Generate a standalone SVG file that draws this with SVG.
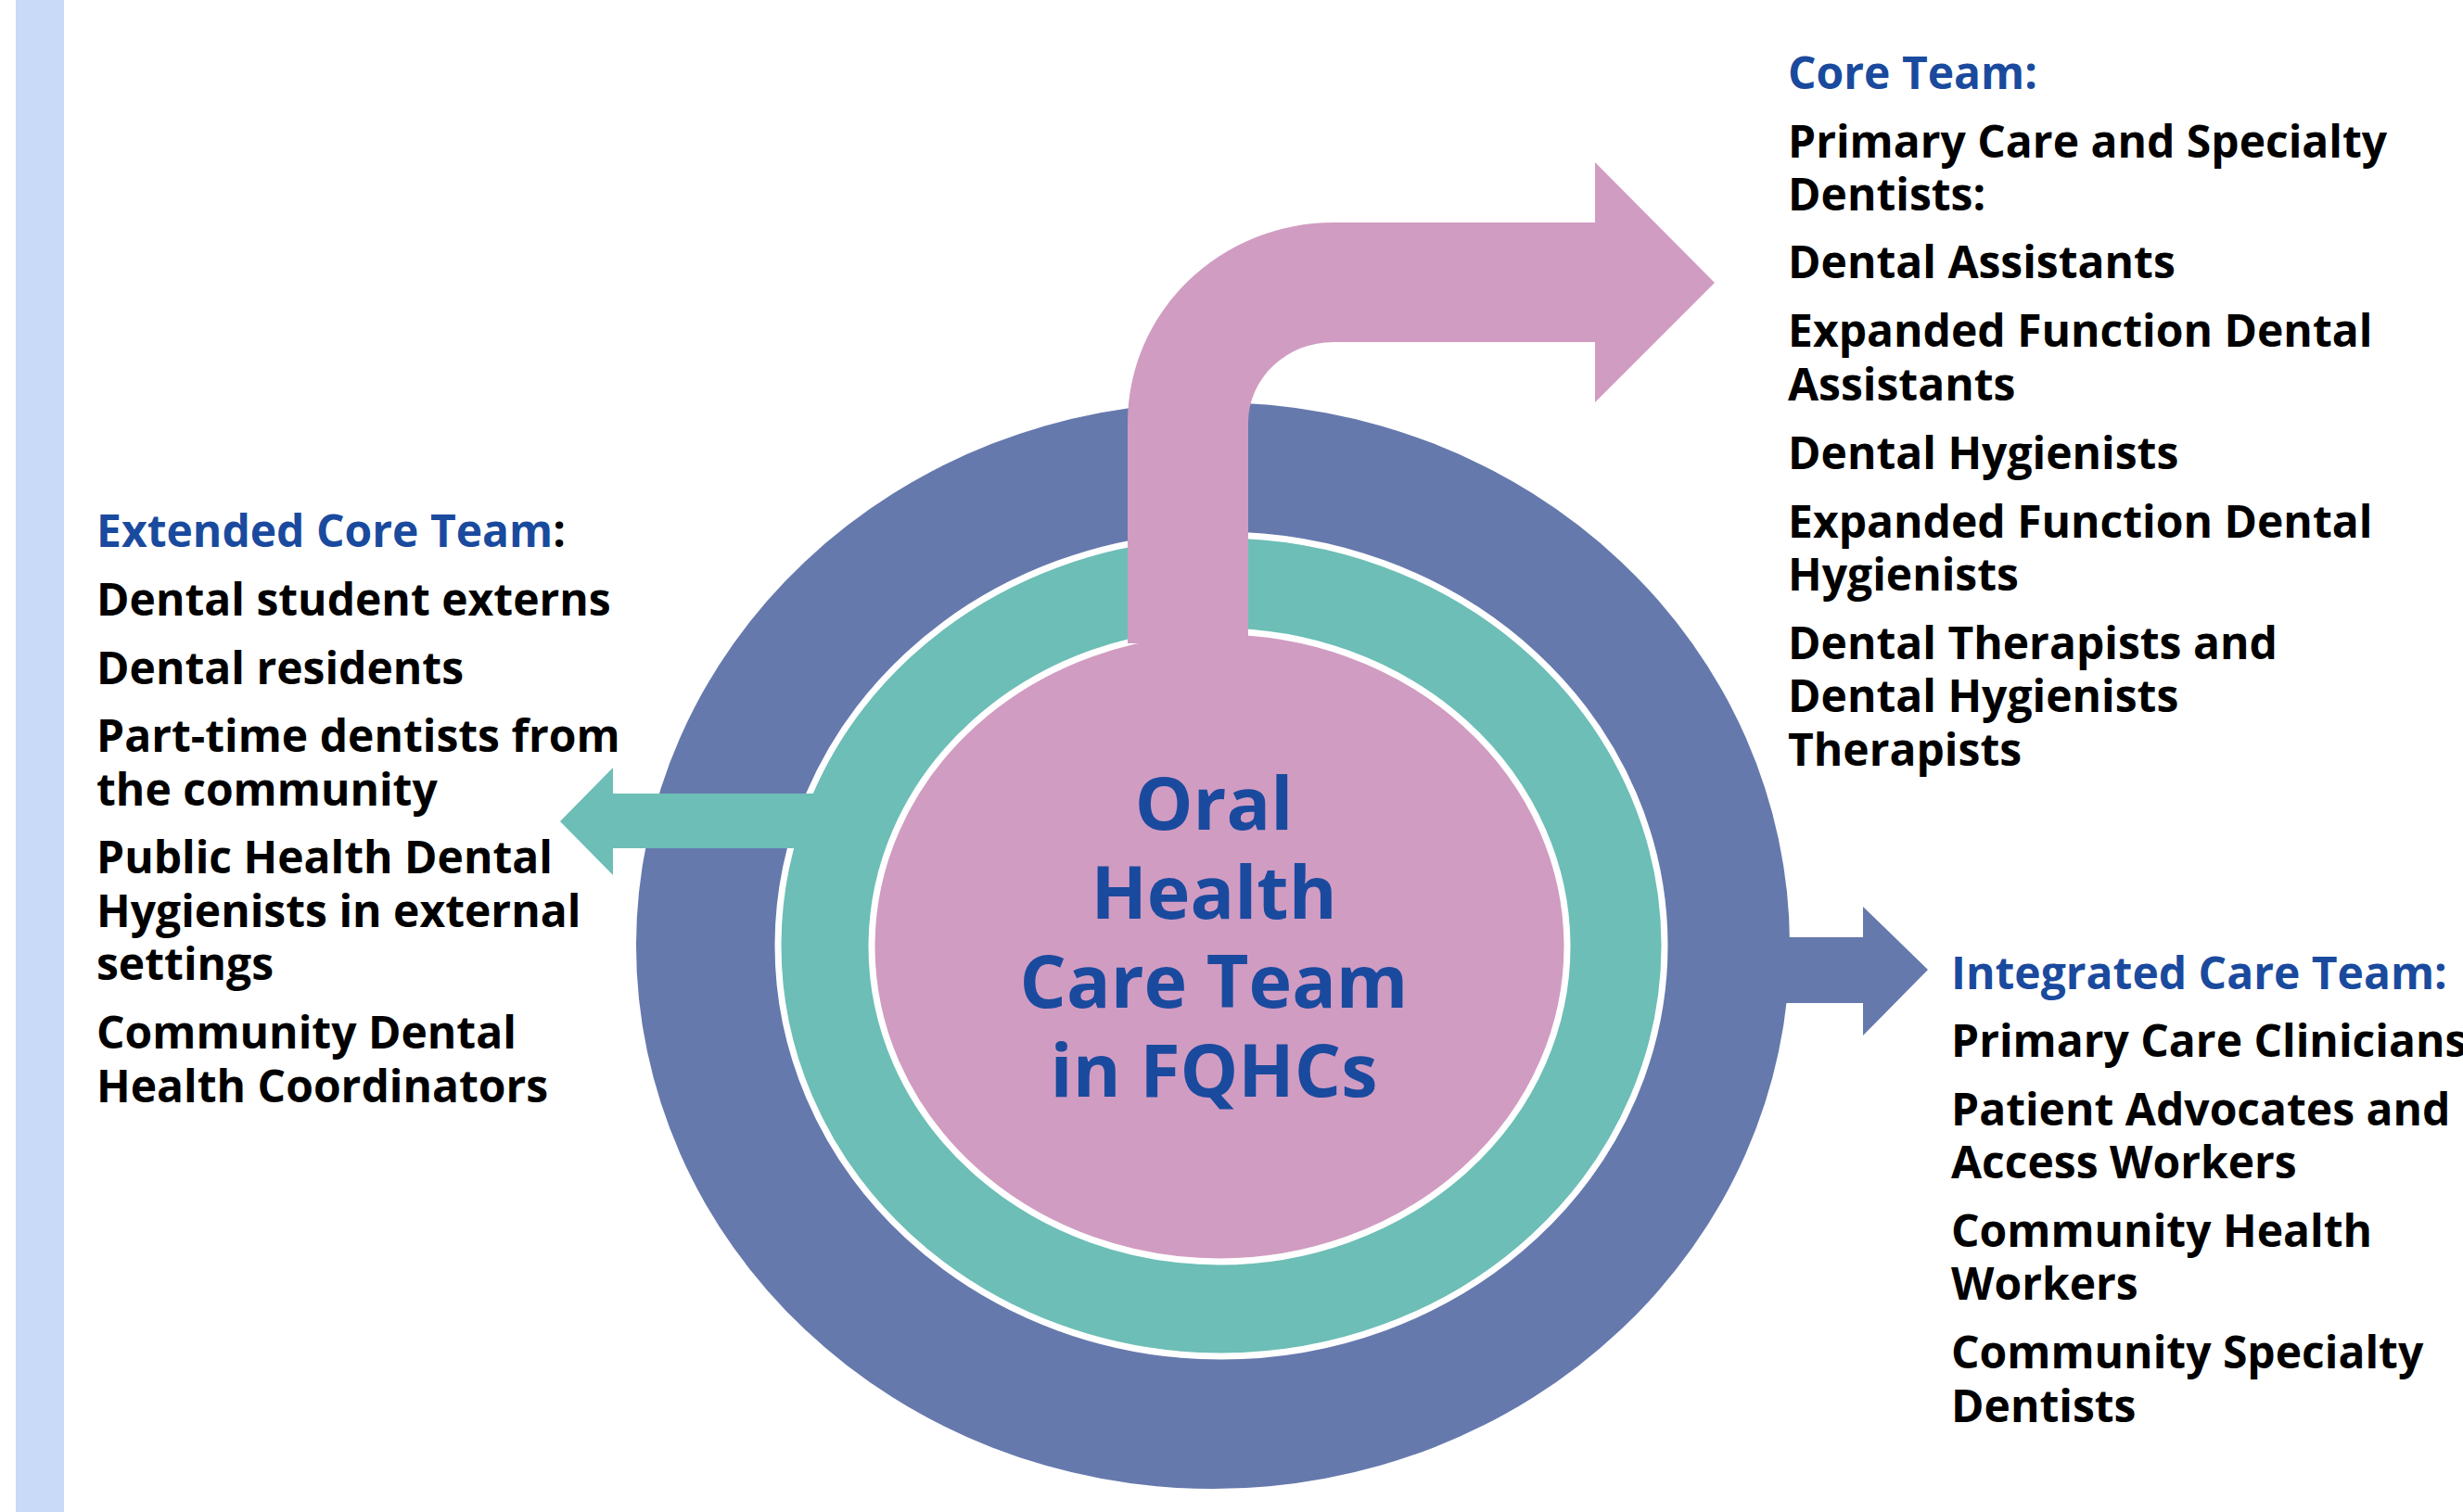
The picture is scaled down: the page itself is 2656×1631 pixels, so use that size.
<svg xmlns="http://www.w3.org/2000/svg" width="2656" height="1631" viewBox="0 0 2656 1631">
<style>
.t{font-family:"Open Sans","Liberation Sans",sans-serif;font-weight:700;font-size:48px;fill:#000}
.h{fill:#1A4A9E}
.title{font-family:"Open Sans","Liberation Sans",sans-serif;font-weight:700;font-size:79px;fill:#1A4A9E;text-anchor:middle}
.ring{stroke:#fff;stroke-width:7}
</style>
<rect width="2656" height="1631" fill="#fff"/>
<rect id="sidebar" x="17" y="0" width="52" height="1631" fill="#C9DAF8"/>
<g id="rings">
<ellipse cx="1308" cy="1020" rx="622" ry="586" fill="#6679AD"/>
<ellipse cx="1317" cy="1020" rx="478" ry="443" fill="#6CBEB6" class="ring"/>
</g>
<g id="connectors">
<path id="arrow-extended" d="M900,856 L661,856 L661,828 L604,886 L661,944 L661,915 L900,915 Z" fill="#6CBEB6"/>
<path id="arrow-integrated" d="M1900,1011 L2009,1011 L2009,978 L2079,1046 L2009,1117 L2009,1082 L1900,1082 Z" fill="#6679AD"/>
</g>
<g id="center">
<ellipse cx="1315" cy="1021" rx="375" ry="340" fill="#D19CC2" class="ring"/>
<text class="title" x="1309" y="895">Oral</text>
<text class="title" x="1309" y="991">Health</text>
<text class="title" x="1309" y="1087">Care Team</text>
<text class="title" x="1309" y="1183">in FQHCs</text>
</g>
<g id="connectors-core">
<path id="arrow-core" d="M1216,694 L1216,456 A222,216 0 0 1 1438,240 L1720,240 L1720,175 L1849,305 L1720,434 L1720,369 L1438,369 A92,87 0 0 0 1346,456 L1346,694 Z" fill="#D19CC2"/>
</g>
<g id="core-team">
<text class="t h" x="1928" y="96">Core Team:</text>
<text class="t" x="1928" y="170">Primary Care and Specialty</text>
<text class="t" x="1928" y="227">Dentists:</text>
<text class="t" x="1928" y="300">Dental Assistants</text>
<text class="t" x="1928" y="374">Expanded Function Dental</text>
<text class="t" x="1928" y="432">Assistants</text>
<text class="t" x="1928" y="506">Dental Hygienists</text>
<text class="t" x="1928" y="580">Expanded Function Dental</text>
<text class="t" x="1928" y="637">Hygienists</text>
<text class="t" x="1928" y="711">Dental Therapists and</text>
<text class="t" x="1928" y="768">Dental Hygienists</text>
<text class="t" x="1928" y="826">Therapists</text>
</g>
<g id="extended-core-team">
<text class="t" x="104" y="590"><tspan class="h">Extended Core Team</tspan>:</text>
<text class="t" x="104" y="664">Dental student externs</text>
<text class="t" x="104" y="738">Dental residents</text>
<text class="t" x="104" y="811">Part-time dentists from</text>
<text class="t" x="104" y="869">the community</text>
<text class="t" x="104" y="942">Public Health Dental</text>
<text class="t" x="104" y="1000">Hygienists in external</text>
<text class="t" x="104" y="1057">settings</text>
<text class="t" x="104" y="1131">Community Dental</text>
<text class="t" x="104" y="1189">Health Coordinators</text>
</g>
<g id="integrated-care-team">
<text class="t h" x="2104" y="1067">Integrated Care Team:</text>
<text class="t" x="2104" y="1140">Primary Care Clinicians</text>
<text class="t" x="2104" y="1214">Patient Advocates and</text>
<text class="t" x="2104" y="1271">Access Workers</text>
<text class="t" x="2104" y="1345">Community Health</text>
<text class="t" x="2104" y="1402">Workers</text>
<text class="t" x="2104" y="1476">Community Specialty</text>
<text class="t" x="2104" y="1534">Dentists</text>
</g>
</svg>
